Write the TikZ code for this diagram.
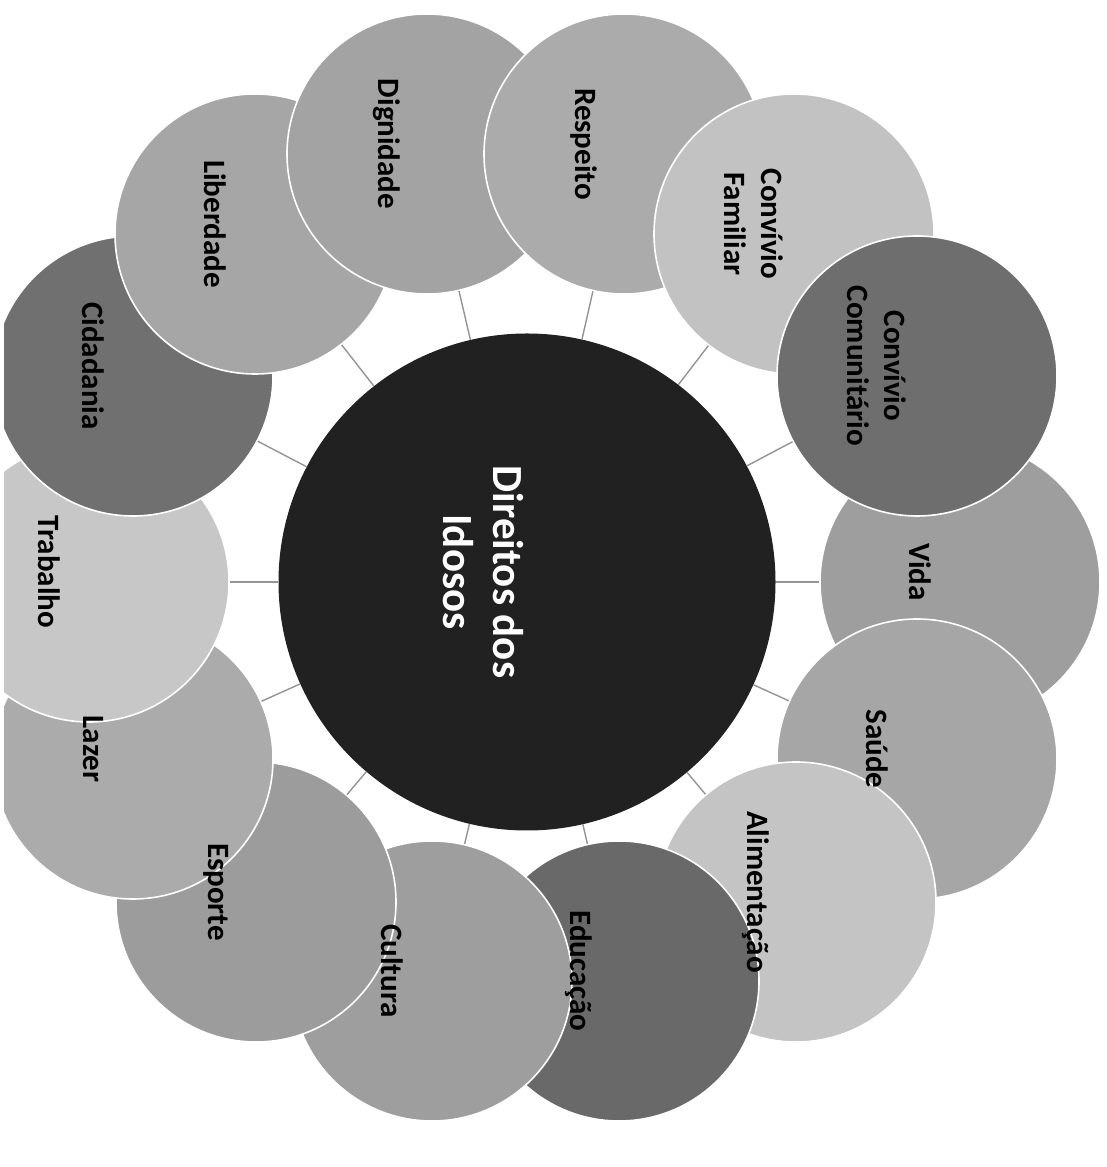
\documentclass[tikz,border=0pt]{standalone}
\usepackage{fontspec}
\setmainfont{Carlito}

\begin{document}
\begin{tikzpicture}[x=1pt,y=1pt,
  hub/.style={circle,fill=black!87,minimum size=497pt,inner sep=0},
  topic/.style={circle,draw=white,line width=1.6pt,minimum size=280pt,inner sep=0},
  link/.style={draw=black!42,line width=1.4pt},
  lbl/.style={rotate=-90,inner sep=0,align=center,font=\bfseries\fontsize{31}{37}\selectfont}]
\useasboundingbox (0,0) rectangle (1106,1167);
\fill[white] (0,0) rectangle (1106,1167);
\clip (4,0) rectangle (1106,1167);
% centre
\node[hub] (hub) at (527,585) {};
% ring, lowest first
\node[topic,fill=black!38] (vida) at (960,585) {};
\node[topic,fill=black!35] (saude) at (917,408) {};
\node[topic,fill=black!23] (alim) at (796,265) {};
\node[topic,fill=black!59] (educ) at (619,186) {};
\node[topic,fill=black!38] (cult) at (432,186) {};
\node[topic,fill=black!39] (esp) at (256,265) {};
\node[topic,fill=black!33] (lazer) at (133,408) {};
\node[topic,fill=black!22] (trab) at (89,585) {};
\node[topic,fill=black!56] (cid) at (133,791) {};
\node[topic,fill=black!35] (lib) at (255,933) {};
\node[topic,fill=black!36] (dig) at (427,1013) {};
\node[topic,fill=black!33] (resp) at (624,1013) {};
\node[topic,fill=black!24] (fam) at (794,933) {};
\node[topic,fill=black!57] (com) at (917,791) {};
% spokes
\draw[link] (hub) -- (vida);
\draw[link] (hub) -- (saude);
\draw[link] (hub) -- (alim);
\draw[link] (hub) -- (educ);
\draw[link] (hub) -- (cult);
\draw[link] (hub) -- (esp);
\draw[link] (hub) -- (lazer);
\draw[link] (hub) -- (trab);
\draw[link] (hub) -- (cid);
\draw[link] (hub) -- (lib);
\draw[link] (hub) -- (dig);
\draw[link] (hub) -- (resp);
\draw[link] (hub) -- (fam);
\draw[link] (hub) -- (com);
% texts
\node[lbl,text=white,font=\bfseries\fontsize{43}{50}\selectfont] at ([shift={(-44,10)}]hub.center) {Direitos dos\\Idosos};
\node[lbl] at ([shift={(-40,10)}]vida.center) {Vida};
\node[lbl] at ([shift={(-40,10)}]saude.center) {Saúde};
\node[lbl] at ([shift={(-40,10)}]alim.center) {Alimentação};
\node[lbl] at ([shift={(-40,10)}]educ.center) {Educação};
\node[lbl] at ([shift={(-40,10)}]cult.center) {Cultura};
\node[lbl] at ([shift={(-40,10)}]esp.center) {Esporte};
\node[lbl] at ([shift={(-40,10)}]lazer.center) {Lazer};
\node[lbl] at ([shift={(-40,10)}]trab.center) {Trabalho};
\node[lbl] at ([shift={(-40,10)}]cid.center) {Cidadania};
\node[lbl] at ([shift={(-40,10)}]lib.center) {Liberdade};
\node[lbl] at ([shift={(-40,10)}]dig.center) {Dignidade};
\node[lbl] at ([shift={(-40,10)}]resp.center) {Respeito};
\node[lbl] at ([shift={(-40,10)}]fam.center) {Convívio\\Familiar};
\node[lbl] at ([shift={(-40,10)}]com.center) {Convívio\\Comunitário};
\end{tikzpicture}
\end{document}
